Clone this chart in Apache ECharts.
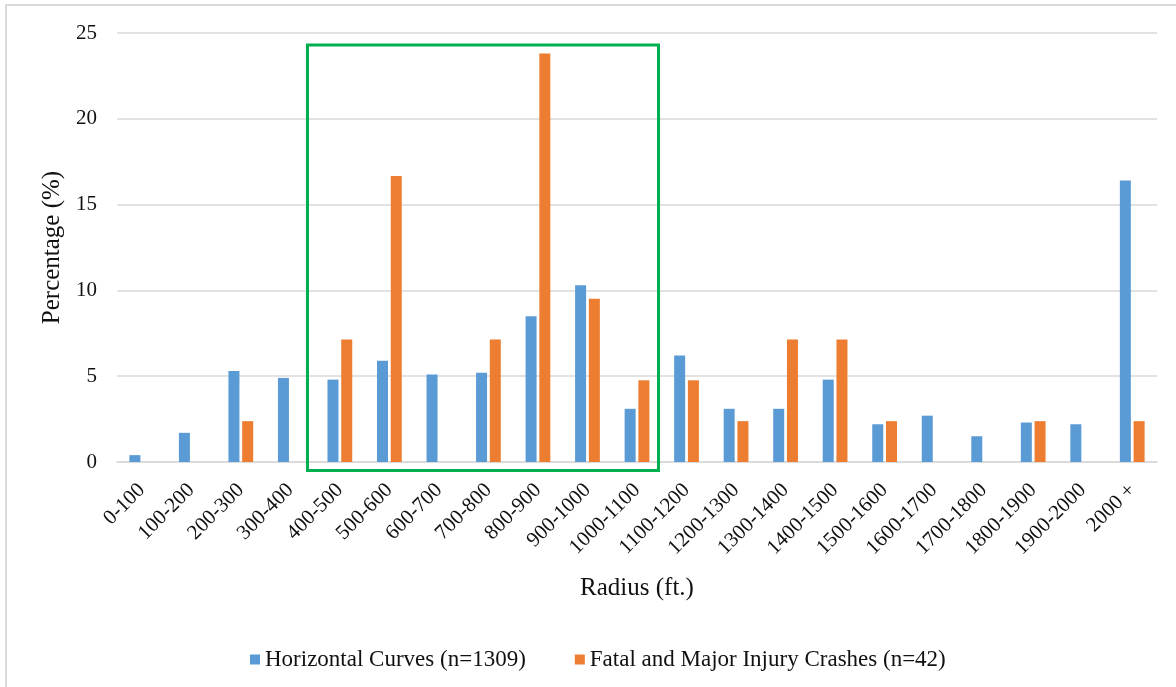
<!DOCTYPE html>
<html>
<head>
<meta charset="utf-8">
<script src="https://cdn.jsdelivr.net/npm/echarts@6/dist/echarts.min.js"></script>
<style>
html,body{margin:0;padding:0;background:#fff;}
#chart{width:1176px;height:687px;}
</style>
</head>
<body>
<div id="chart"></div>
<script>
const categories = ['0-100','100-200','200-300','300-400','400-500','500-600','600-700','700-800','800-900','900-1000','1000-1100','1100-1200','1200-1300','1300-1400','1400-1500','1500-1600','1600-1700','1700-1800','1800-1900','1900-2000','2000 +'];
const horizontalCurves = [0.4,1.7,5.3,4.9,4.8,5.9,5.1,5.2,8.5,10.3,3.1,6.2,3.1,3.1,4.8,2.2,2.7,1.5,2.3,2.2,16.4];
const fatalMajorCrashes = [0,0,2.38,0,7.14,16.67,0,7.14,23.81,9.52,4.76,4.76,2.38,7.14,7.14,2.38,0,0,2.38,0,2.38];
const yTicks = [0,5,10,15,20,25];
const seriesNames = ['Horizontal Curves (n=1309)','Fatal and Major Injury Crashes (n=42)'];

const FONT = "'Liberation Serif','Times New Roman',serif";
const TXT = '#111';
const chart = echarts.init(document.getElementById('chart'), null, {renderer:'canvas'});
chart.setOption({
  animation:false,
  backgroundColor:'#fff',
  textStyle:{fontFamily:FONT,color:TXT},
  grid:{left:117,right:19,top:33,bottom:225,containLabel:false},
  legend:{
    left:245, top:643,
    itemWidth:10,itemHeight:10,itemGap:49,
    icon:'rect',
    textStyle:{fontFamily:FONT,fontSize:23,color:TXT},
    data:seriesNames
  },
  xAxis:{
    type:'category',
    data:categories,
    name:'Radius (ft.)',
    nameLocation:'middle',
    nameGap:114,
    nameTextStyle:{fontFamily:FONT,fontSize:25,color:TXT},
    axisLine:{lineStyle:{color:'#d9d9d9',width:1.5}},
    axisTick:{show:false},
    axisLabel:{rotate:45,interval:0,margin:25,fontFamily:FONT,fontSize:21,color:TXT}
  },
  yAxis:{
    type:'value',
    min:yTicks[0],max:yTicks[yTicks.length-1],interval:5,
    name:'Percentage (%)',
    nameLocation:'middle',
    nameGap:42,
    nameTextStyle:{fontFamily:FONT,fontSize:25,color:TXT},
    axisLine:{show:false},
    axisTick:{show:false},
    axisLabel:{margin:20,fontFamily:FONT,fontSize:21,color:TXT},
    splitLine:{lineStyle:{color:'#d9d9d9',width:1.5}}
  },
  series:[
    {name:seriesNames[0],type:'bar',data:horizontalCurves,barWidth:11,barGap:'25%',
     itemStyle:{color:'#5B9BD5'}},
    {name:seriesNames[1],type:'bar',data:fatalMajorCrashes,barWidth:11,
     itemStyle:{color:'#ED7D31'}}
  ],
  graphic:[
    {type:'polyline',shape:{points:[[6,700],[6,5],[1180,5]]},style:{stroke:'#dadada',lineWidth:2,fill:null},silent:true},
    {type:'rect',shape:{x:307.5,y:45,width:351,height:425.5},style:{stroke:'#00B050',lineWidth:3,fill:null},silent:true,z:100}
  ]
});
</script>
</body>
</html>
